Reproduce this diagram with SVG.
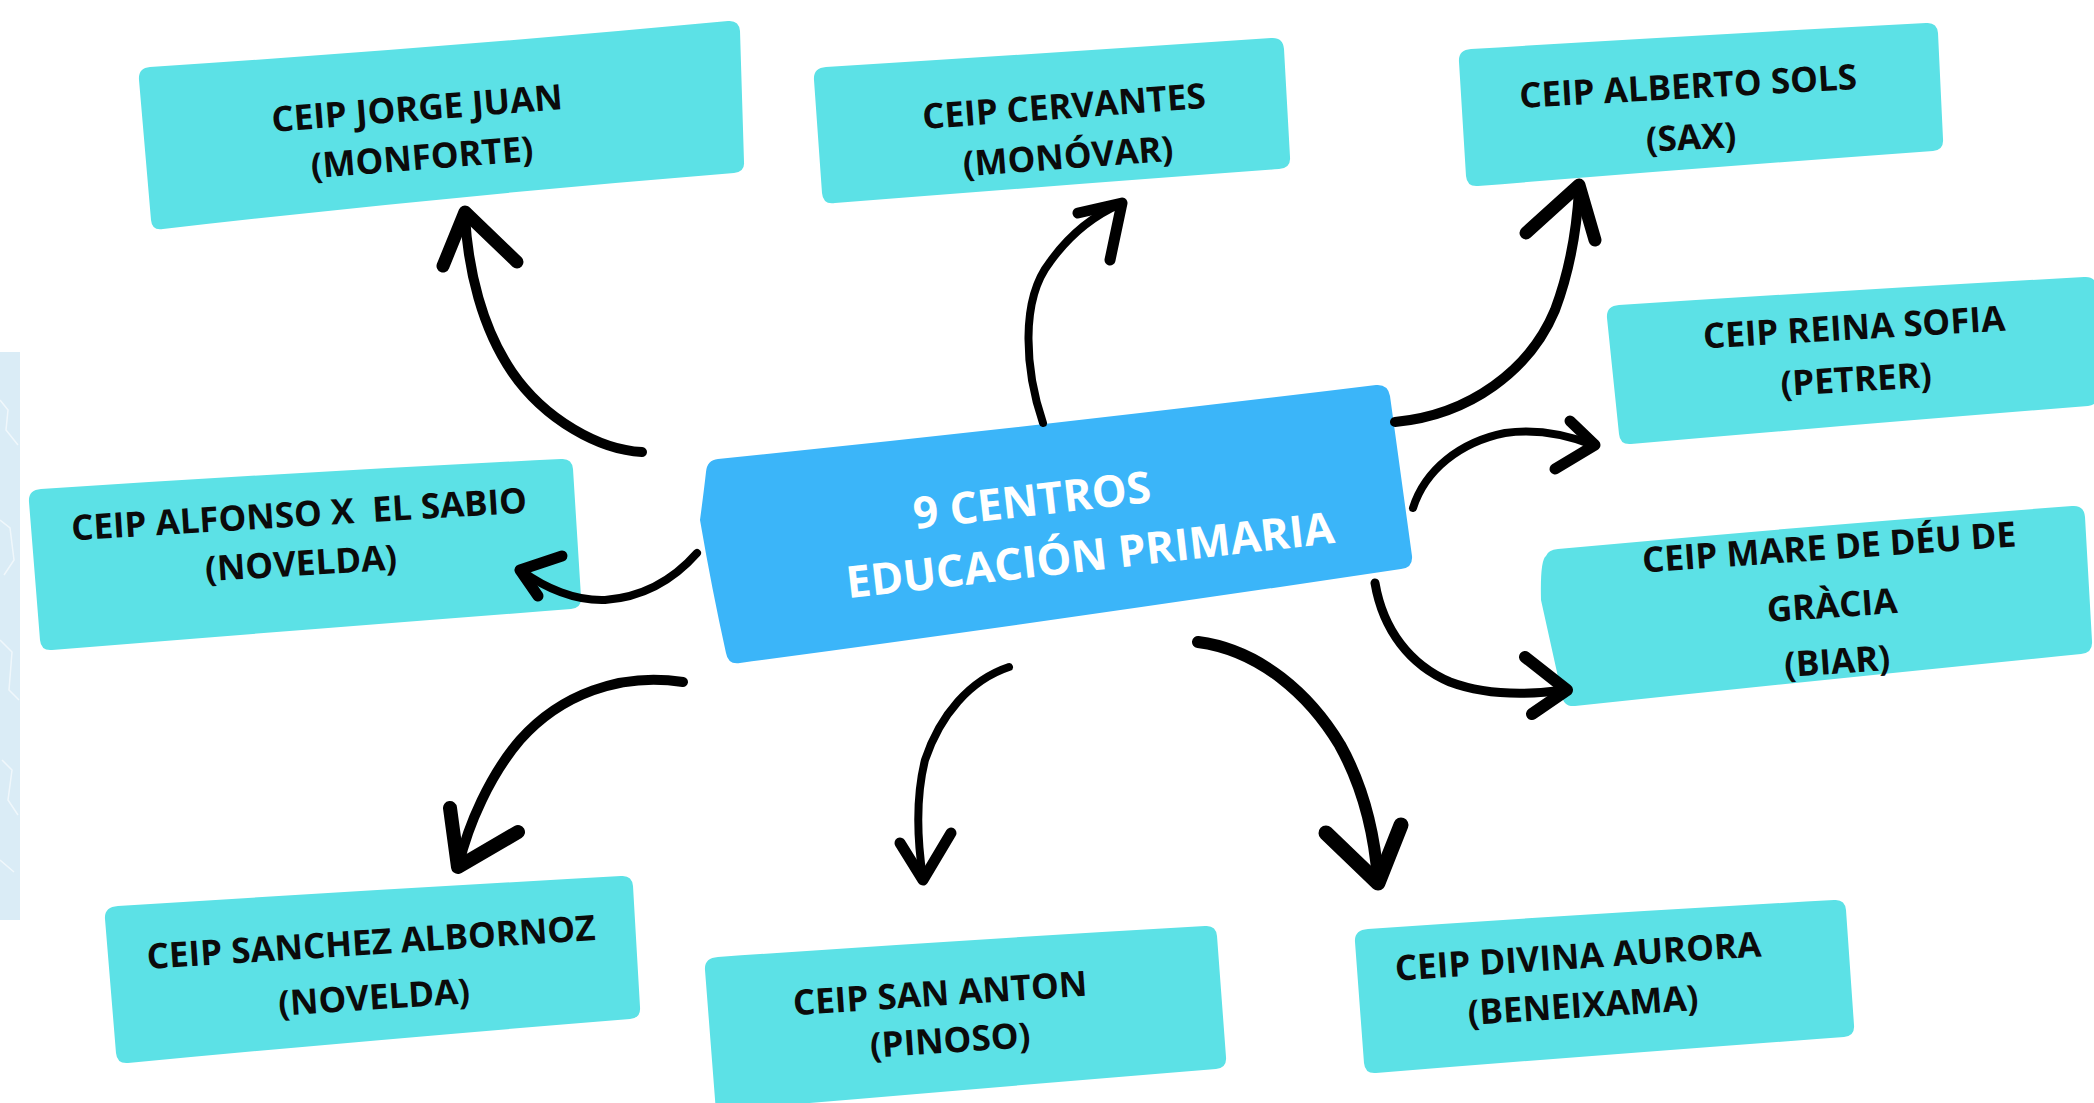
<svg xmlns="http://www.w3.org/2000/svg" width="2094" height="1103" viewBox="0 0 2094 1103">
<style>
.box{fill:#5CE1E6}
.hub{fill:#3BB5F9}
.t{font-family:"Open Sans","Liberation Sans",sans-serif;font-weight:700;font-size:35px;fill:#0B0B0B;text-anchor:middle}
.tw{font-size:44px;fill:#FFFFFF}
.arr{fill:none;stroke:#000;stroke-linecap:round;stroke-linejoin:round}
.tex{fill:none;stroke:#FFFFFF;stroke-width:1.5;opacity:.6}
</style>
<rect width="2094" height="1103" fill="#FFFFFF"/>
<g id="bg-texture">
<rect x="0" y="352" width="20" height="568" fill="#DAECF6"/>
<path class="tex" d="M0,400 L8,410 L6,430 L18,445 M0,520 L10,528 L14,560 L4,575 M0,640 L12,652 L9,690 L19,700 M2,760 L12,770 L8,800 L18,815 M0,860 L14,872"/>
</g>
<g id="node-jorge-juan">
<path class="box" d="M150,67 Q440,48 728,21 Q739,20 740,31 L744,162 Q745,172 734,173 Q450,196 163,229 Q152,231 151,220 L139,80 Q138,68 150,67 Z"/>
<text class="t" x="417" y="120.5" transform="rotate(-4.5 417 108)">CEIP JORGE JUAN</text>
<text class="t" x="422" y="169.5" transform="rotate(-4.5 422 157)">(MONFORTE)</text>
</g>
<g id="node-cervantes">
<path class="box" d="M826,67 Q1050,53 1271,38 Q1283,37 1284,49 L1290,157 Q1291,168 1279,169 Q1050,186 835,203 Q823,205 822,193 L814,80 Q813,68 826,67 Z"/>
<text class="t" x="1064" y="118.5" transform="rotate(-4.3 1064 106)">CEIP CERVANTES</text>
<text class="t" x="1068" y="168.5" transform="rotate(-4.3 1068 156)">(MONÓVAR)</text>
</g>
<g id="node-alberto-sols">
<path class="box" d="M1471,49 Q1700,35 1926,23 Q1937,22 1938,33 L1943,139 Q1944,150 1933,151 Q1700,168 1478,186 Q1467,187 1466,176 L1459,62 Q1458,50 1471,49 Z"/>
<text class="t" x="1688" y="98.5" transform="rotate(-3.2 1688 86)">CEIP ALBERTO SOLS</text>
<text class="t" x="1691" y="149.5" transform="rotate(-3.2 1691 137)">(SAX)</text>
</g>
<g id="node-reina-sofia">
<path class="box" d="M1619,305 Q1850,290 2084,277 Q2096,276 2097,288 L2098,395 Q2098,405 2088,406 Q1850,425 1631,444 Q1620,445 1619,434 L1607,318 Q1606,306 1619,305 Z"/>
<text class="t" x="1854" y="339.5" transform="rotate(-3.4 1854 327)">CEIP REINA SOFIA</text>
<text class="t" x="1856" y="391.5" transform="rotate(-3.4 1856 379)">(PETRER)</text>
</g>
<g id="node-mare-deu-gracia">
<path class="box" d="M1558,549 Q1820,525 2072,506 Q2084,505 2085,517 L2092,641 Q2093,653 2081,654 Q1820,680 1575,706 Q1563,707 1562,695 L1541,600 Q1540,560 1546,556 Q1548,550 1558,549 Z"/>
<text class="t" x="1829" y="559.5" transform="rotate(-4 1829 547)">CEIP MARE DE DÉU DE</text>
<text class="t" x="1832" y="617.5" transform="rotate(-4 1832 605)">GRÀCIA</text>
<text class="t" x="1837" y="673.5" transform="rotate(-4 1837 661)">(BIAR)</text>
</g>
<g id="node-alfonso-x">
<path class="box" d="M41,489 Q300,472 561,459 Q572,458 573,469 L581,597 Q582,608 571,609 Q300,630 52,650 Q41,651 40,640 L29,502 Q28,490 41,489 Z"/>
<text class="t" x="299" y="526.5" transform="rotate(-3.5 299 514)" style="white-space:pre">CEIP ALFONSO X  EL SABIO</text>
<text class="t" x="301" y="575.5" transform="rotate(-3.5 301 563)">(NOVELDA)</text>
</g>
<g id="node-hub">
<path class="hub" d="M718,459 Q1050,425 1376,385 Q1388,384 1390,396 L1412,556 Q1413,568 1401,569 Q1060,620 740,663 Q728,665 726,653 Q712,590 700,520 Q704,490 706,472 Q707,460 718,459 Z"/>
<text class="t tw" x="1032" y="515.7" transform="rotate(-6.5 1032 500)">9 CENTROS</text>
<text class="t tw" x="1090" y="570.7" transform="rotate(-6.5 1090 555)">EDUCACIÓN PRIMARIA</text>
</g>
<g id="node-sanchez-albornoz">
<path class="box" d="M118,906 Q370,890 621,876 Q632,875 633,886 L640,1007 Q641,1018 630,1019 Q370,1040 128,1063 Q117,1064 116,1053 L105,919 Q104,907 118,906 Z"/>
<text class="t" x="371" y="954.5" transform="rotate(-3.7 371 942)">CEIP SANCHEZ ALBORNOZ</text>
<text class="t" x="374" y="1009.5" transform="rotate(-3.7 374 997)">(NOVELDA)</text>
</g>
<g id="node-san-anton">
<path class="box" d="M718,957 Q960,940 1205,926 Q1216,925 1217,936 L1226,1057 Q1227,1068 1216,1069 Q960,1090 728,1110 L716,1112 L705,970 Q704,958 718,957 Z"/>
<text class="t" x="940" y="1005.5" transform="rotate(-3.8 940 993)">CEIP SAN ANTON</text>
<text class="t" x="950" y="1052.5" transform="rotate(-3.8 950 1040)">(PINOSO)</text>
</g>
<g id="node-divina-aurora">
<path class="box" d="M1368,929 Q1600,913 1834,900 Q1845,899 1846,910 L1854,1025 Q1855,1036 1844,1037 Q1600,1055 1376,1073 Q1365,1074 1364,1063 L1355,942 Q1354,930 1368,929 Z"/>
<text class="t" x="1578" y="968.5" transform="rotate(-3.8 1578 956)">CEIP DIVINA AURORA</text>
<text class="t" x="1583" y="1017.5" transform="rotate(-3.8 1583 1005)">(BENEIXAMA)</text>
</g>
<g id="connectors">
<path class="arr" stroke-width="10" d="M642,452 C600,450 545,420 512,372 C482,328 468,270 465,216"/>
<path class="arr" stroke-width="13" d="M443,266 L465,212 L517,262"/>
<path class="arr" stroke-width="8" d="M1043,423 C1025,370 1020,300 1050,262 C1070,234 1095,215 1120,204"/>
<path class="arr" stroke-width="11" d="M1078,213 L1122,203 L1110,260"/>
<path class="arr" stroke-width="10" d="M1395,422 C1470,415 1530,370 1555,310 C1570,270 1577,225 1579,190"/>
<path class="arr" stroke-width="13" d="M1526,233 L1579,185 L1595,240"/>
<path class="arr" stroke-width="8" d="M1413,508 C1425,470 1460,442 1505,433 C1540,428 1570,436 1593,445"/>
<path class="arr" stroke-width="11" d="M1570,421 L1595,445 L1555,469"/>
<path class="arr" stroke-width="9" d="M1375,583 C1383,630 1410,665 1450,682 C1490,697 1535,694 1565,690"/>
<path class="arr" stroke-width="12" d="M1525,657 L1567,690 L1532,714"/>
<path class="arr" stroke-width="8" d="M697,553 C675,578 645,597 605,600 C575,601 545,588 522,571"/>
<path class="arr" stroke-width="11" d="M562,556 L520,570 L538,596"/>
<path class="arr" stroke-width="10" d="M683,682 C620,672 560,695 520,740 C490,775 468,825 459,864"/>
<path class="arr" stroke-width="14" d="M450,808 L458,867 L518,832"/>
<path class="arr" stroke-width="8" d="M1009,667 C970,680 940,715 925,760 C915,800 918,845 923,878"/>
<path class="arr" stroke-width="11" d="M900,843 L923,880 L951,833"/>
<path class="arr" stroke-width="12" d="M1198,642 C1260,650 1310,695 1340,745 C1365,790 1375,840 1378,880"/>
<path class="arr" stroke-width="15" d="M1326,833 L1378,883 L1401,825"/>
</g>
</svg>
